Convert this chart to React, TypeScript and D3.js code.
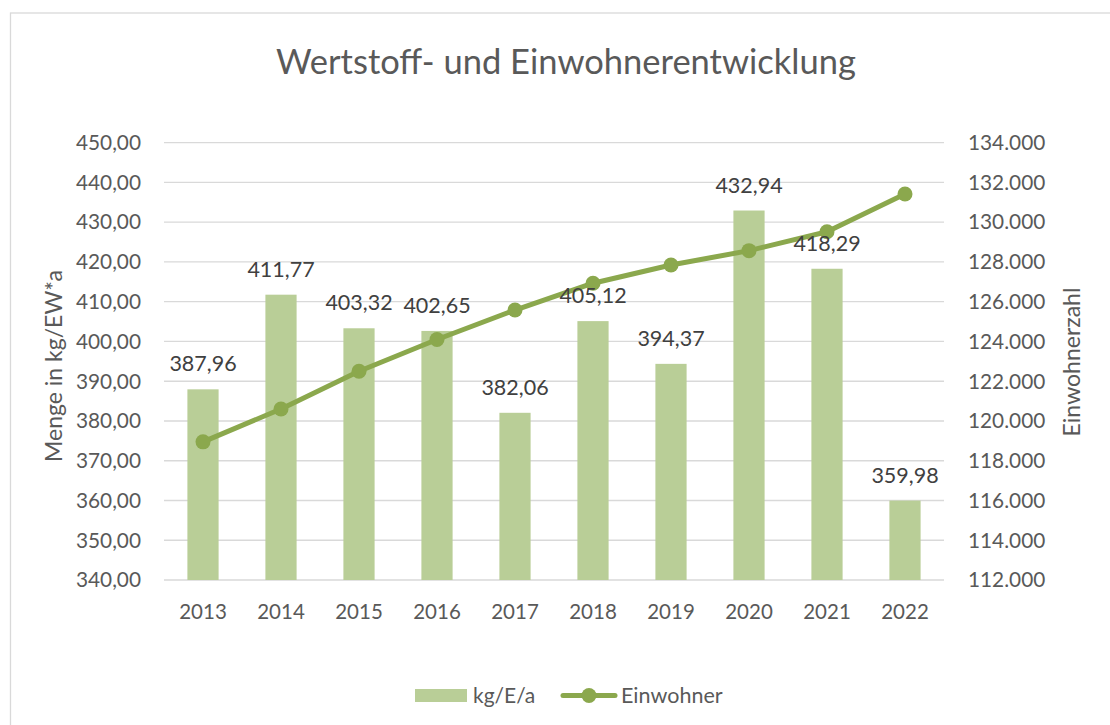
import React from "react";
import * as d3 from "d3";

const years = ["2013", "2014", "2015", "2016", "2017", "2018", "2019", "2020", "2021", "2022"];
const kgPerE = [387.96, 411.77, 403.32, 402.65, 382.06, 405.12, 394.37, 432.94, 418.29, 359.98];
const einwohner = [118950, 120600, 122500, 124100, 125580, 126930, 127850, 128570, 129520, 131420];
const leftTicks = [340, 350, 360, 370, 380, 390, 400, 410, 420, 430, 440, 450];
const rightTicks = [112000, 114000, 116000, 118000, 120000, 122000, 124000, 126000, 128000, 130000, 132000, 134000];

const W = 1110;
const H = 725;
const FONT = "Lato, 'Open Sans', sans-serif";
const TXT = "#595959";
const BAR = "#b9ce97";
const LINE = "#8ba84d";
const GRID = "#d9d9d9";

const plot = { left: 164, right: 944, top: 142.7, bottom: 580 };

const fmt2 = (v: number) => v.toFixed(2).replace(".", ",");
const fmtK = (v: number) => d3.format(",")(v).replace(/,/g, ".");

export default function App() {
  const x = d3.scaleBand<string>().domain(years).range([plot.left, plot.right]).paddingInner(0.6).paddingOuter(0.3);
  const yL = d3.scaleLinear().domain([340, 450]).range([plot.bottom, plot.top]);
  const yR = d3.scaleLinear().domain([112000, 134000]).range([plot.bottom, plot.top]);
  const cx = (y: string) => (x(y) ?? 0) + x.bandwidth() / 2;
  const line = d3
    .line<number>()
    .x((_, i) => cx(years[i]))
    .y((d) => yR(d));

  return (
    <svg width={W} height={H} style={{ position: "absolute", left: 0, top: 0, background: "#fff" }} fontFamily={FONT}>
      <rect x={0} y={0} width={W} height={H} fill="#fff" />
      <rect x={10.5} y={13} width={W + 20} height={H + 20} fill="none" stroke={GRID} strokeWidth={1.3} />
      <text x={566} y={74} textAnchor="middle" fontSize={34.5} fill={TXT}>
        Wertstoff- und Einwohnerentwicklung
      </text>
      {leftTicks.map((t) => (
        <g key={t}>
          <line x1={plot.left} x2={plot.right} y1={yL(t)} y2={yL(t)} stroke={GRID} strokeWidth={1.3} />
          <text x={141} y={yL(t)} dy="0.35em" textAnchor="end" fontSize={20.8} fill={TXT}>
            {fmt2(t)}
          </text>
        </g>
      ))}
      {rightTicks.map((t) => (
        <text key={t} x={968} y={yR(t)} dy="0.35em" textAnchor="start" fontSize={20.8} fill={TXT}>
          {fmtK(t)}
        </text>
      ))}
      {kgPerE.map((v, i) => (
        <rect key={years[i]} x={x(years[i])} y={yL(v)} width={x.bandwidth()} height={plot.bottom - yL(v)} fill={BAR} />
      ))}
      {years.map((yr) => (
        <text key={yr} x={cx(yr)} y={619} textAnchor="middle" fontSize={20.5} fill={TXT}>
          {yr}
        </text>
      ))}
      <path d={line(einwohner) ?? ""} fill="none" stroke={LINE} strokeWidth={5} strokeLinejoin="round" strokeLinecap="round" />
      {einwohner.map((v, i) => (
        <circle key={years[i]} cx={cx(years[i])} cy={yR(v)} r={7.5} fill={LINE} />
      ))}
      {kgPerE.map((v, i) => (
        <text key={years[i]} x={cx(years[i])} y={yL(v) - 18} textAnchor="middle" fontSize={21.5} fill="#404040">
          {fmt2(v)}
        </text>
      ))}
      <text transform={`translate(62, 366) rotate(-90)`} textAnchor="middle" fontSize={23} fill={TXT}>
        Menge in kg/EW*a
      </text>
      <text transform={`translate(1080, 362) rotate(-90)`} textAnchor="middle" fontSize={23} fill={TXT}>
        Einwohnerzahl
      </text>
      <g>
        <rect x={415} y={689} width={52} height={13} fill={BAR} />
        <text x={473} y={695.5} dy="0.35em" fontSize={21} fill={TXT}>
          kg/E/a
        </text>
        <line x1={563} x2={615} y1={695.5} y2={695.5} stroke={LINE} strokeWidth={5} strokeLinecap="round" />
        <circle cx={589} cy={695.5} r={7.5} fill={LINE} />
        <text x={621} y={695.5} dy="0.35em" fontSize={21.5} fill={TXT}>
          Einwohner
        </text>
      </g>
    </svg>
  );
}
